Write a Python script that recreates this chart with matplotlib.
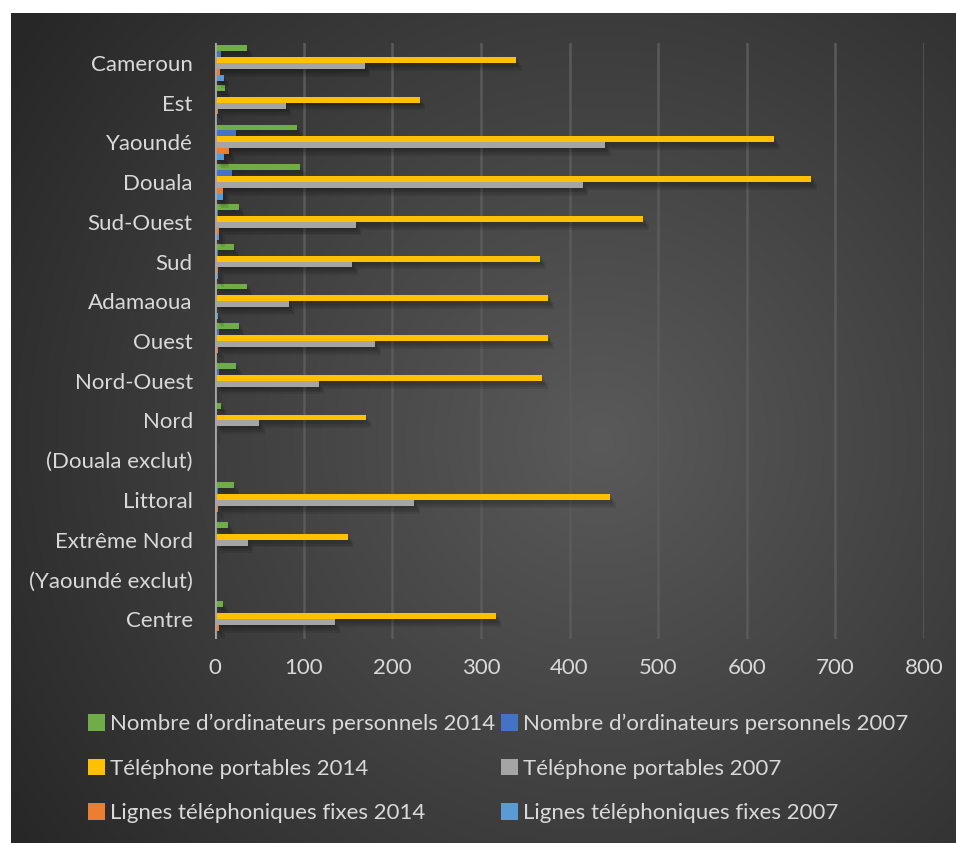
import matplotlib
matplotlib.use("Agg")
import matplotlib.pyplot as plt
import matplotlib.patheffects as pe
from matplotlib.patches import Patch
import numpy as np

plt.rcParams['font.family'] = ['Lato', 'DejaVu Sans']

# Regions, bottom to top
regions = ['Centre', '(Yaoundé exclut)', 'Extrême Nord', 'Littoral', '(Douala exclut)',
           'Nord', 'Nord-Ouest', 'Ouest', 'Adamaoua', 'Sud', 'Sud-Ouest', 'Douala',
           'Yaoundé', 'Est', 'Cameroun']

pc_2014  = [9, 0, 15, 21, 0, 7, 24, 27, 36, 21, 27, 96, 92, 11, 36]
pc_2007  = [2, 0, 0, 3, 0, 2, 4.5, 4.5, 2, 3.5, 3.5, 19, 24, 2, 7]
tel_2014 = [317, 0, 150, 446, 0, 170, 369, 376, 376, 367, 483, 673, 631, 231, 340]
tel_2007 = [135, 0, 37, 225, 0, 50, 117, 181, 84, 155, 159, 415, 440, 80, 169]
fix_2014 = [4.5, 0, 1, 3.5, 0, 1, 1.5, 3.5, 1, 3.5, 4.5, 9, 16, 3.5, 5.5]
fix_2007 = [1, 0, 1, 1, 0, 1, 1, 1, 3.5, 3.5, 4.5, 9, 10, 0, 10]

series = [
    ("Nombre d\u2019ordinateurs personnels 2014", pc_2014, '#70AD47'),
    ("Nombre d\u2019ordinateurs personnels 2007", pc_2007, '#4472C4'),
    ("Téléphone portables 2014", tel_2014, '#FFC000'),
    ("Téléphone portables 2007", tel_2007, '#A5A5A5'),
    ("Lignes téléphoniques fixes 2014", fix_2014, '#ED7D31'),
    ("Lignes téléphoniques fixes 2007", fix_2007, '#5B9BD5'),
]

W, H = 956, 843
fig = plt.figure(figsize=(W / 100, H / 100), dpi=100)
fig.patch.set_facecolor('white')

# dark radial-gradient backdrop
x0, y0 = 11, 13
bg = fig.add_axes([x0 / W, 0, (W - x0) / W, (H - y0) / H])
yy, xx = np.mgrid[y0:H, x0:W]
r = np.sqrt((xx - 600.0) ** 2 + (yy - 440.0) ** 2) / 710.0
r = np.clip(r, 0, 1)
g = (0x5a + (0x27 - 0x5a) * r) / 255.0
bg.imshow(np.dstack([g, g, g]), aspect='auto', interpolation='bilinear')
bg.set_axis_off()

ax = fig.add_axes([215 / W, 204 / H, 709 / W, 596 / H])
ax.set_facecolor('none')

y = np.arange(len(regions))
h = 0.149
# soft drop shadow under each bar
shadow = [pe.SimplePatchShadow(offset=(d, -1.4 * d), shadow_rgbFace='black', alpha=0.09)
          for d in (1, 2, 3, 4)] + [pe.Normal()]
for i, (name, vals, col) in enumerate(series):
    bars = ax.barh(y + (2.5 - i) * h, vals, height=h, color=col, label=name, zorder=3)
    for b in bars:
        b.set_path_effects(shadow)

ax.set_xlim(0, 800)
ax.set_ylim(-0.5, len(regions) - 0.5)
ax.set_xticks(np.arange(0, 801, 100))
ax.set_yticks(y)
ax.set_yticklabels(regions)
for v in range(100, 801, 100):
    ax.axvline(v, color='#5a5a5a', lw=1.8, zorder=1)
ax.axvline(0, color='#a6a6a6', lw=2, zorder=4)
for s in ax.spines.values():
    s.set_visible(False)
ax.tick_params(axis='both', length=0, colors='#d9d9d9', labelsize=16)
ax.tick_params(axis='y', pad=16)
ax.tick_params(axis='x', pad=14)

# legend: two columns, filled row by row
order = [0, 2, 4, 1, 3, 5]
keys = [Patch(facecolor=series[k][2], edgecolor='none') for k in order]
fig.legend(keys, [series[k][0] for k in order],
           ncol=2, loc='upper left', bbox_to_anchor=(68 / W, 1 - 694 / H),
           frameon=False, fontsize=16, labelcolor='#d9d9d9',
           handlelength=0.75, handleheight=0.75, handletextpad=0.25,
           columnspacing=0.25, labelspacing=1.1)

fig.savefig('out.png', dpi=100, facecolor='white')
